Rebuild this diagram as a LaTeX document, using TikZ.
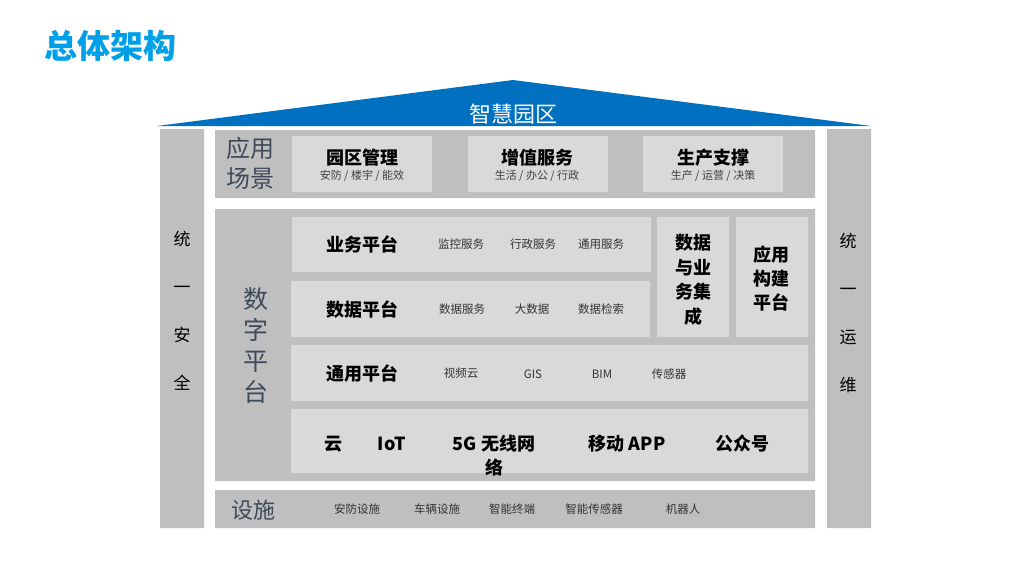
\documentclass[tikz,border=0pt]{standalone}
\usepackage{fontspec}
\setmainfont{Noto Sans CJK SC}
\usepackage{xcolor}
\usetikzlibrary{positioning}
\definecolor{roofblue}{HTML}{0070C0}
\definecolor{titleblue}{HTML}{00A0E9}
\definecolor{bandgray}{HTML}{BFBFBF}
\definecolor{cellgray}{HTML}{D9D9D9}
\definecolor{slate}{HTML}{3E4A5A}
\tikzset{
  every picture/.style={line join=round, line cap=round},
}

\begin{document}
\begin{tikzpicture}[x=1pt,y=-1pt,
  head/.style={font=\fontsize{18}{22}\selectfont\bfseries},
  item/.style={font=\fontsize{11.5}{14}\selectfont, text=black!80},
  sub/.style={font=\fontsize{11}{13}\selectfont, text=black!75},
  side/.style={font=\fontsize{17}{48}\selectfont, align=center},
  layer/.style={text=slate, align=center}]
\useasboundingbox (0,0) rectangle (1024,576);
% title and roof
\node[font=\fontsize{33}{36}\selectfont\bfseries, text=titleblue, anchor=west] (title) at (41,46) {总体架构};
\fill[roofblue] (157,126)--(513,80)--(871,126)--cycle;
\node[font=\fontsize{22}{26}\selectfont, text=white] (park) at (513,114) {智慧园区};
% side columns
\fill[bandgray] (160,129) rectangle (204,528)
(827,129) rectangle (871,528);
\node[side] (security) at (182,311) {统\\一\\安\\全};
\node[side] (ops) at (848,313) {统\\一\\运\\维};
% bands
\fill[bandgray] (215,130) rectangle (815,198)
(215,209) rectangle (815,481)
(215,490) rectangle (815,528);
% application layer
\node[layer, font=\fontsize{24}{30}\selectfont] (app) at (250,163) {应用\\场景};
\fill[cellgray] (292,136) rectangle (432,192)
(468,136) rectangle (608,192)
(643,136) rectangle (783,192);
\node[head] (mgmt) at (362,158) {园区管理};
\node[sub] (mgmtsub) at (362,176) {安防 / 楼宇 / 能效};
\node[head] (value) at (537,158) {增值服务};
\node[sub] (valuesub) at (537,176) {生活 / 办公 / 行政};
\node[head] (prod) at (713,158) {生产支撑};
\node[sub] (prodsub) at (713,176) {生产 / 运营 / 决策};
% digital platform
\node[layer, font=\fontsize{25}{31}\selectfont] (digital) at (256,345) {数\\字\\平\\台};
\fill[cellgray] (292,217) rectangle (651,272)
(291,281) rectangle (650,337)
(291,345) rectangle (808,401)
(291,409) rectangle (808,473)
(657,217) rectangle (729,337)
(736,217) rectangle (808,337);
\node[head] (biz) at (362,244) {业务平台};
\node[item] at (461,244) {监控服务};
\node[item] at (533,244) {行政服务};
\node[item] at (601,244) {通用服务};
\node[head] (data) at (362,309) {数据平台};
\node[item] at (462,309) {数据服务};
\node[item] at (532,309) {大数据};
\node[item] at (601,309) {数据检索};
\node[head] (common) at (362,373) {通用平台};
\node[item] at (461,373) {视频云};
\node[item] at (533,374) {GIS};
\node[item] at (602,374) {BIM};
\node[item] at (669,374) {传感器};
\node[head, align=center, font=\fontsize{18}{24.5}\selectfont\bfseries] (integ) at (693,280) {数据\\与业\\务集\\成};
\node[head, align=center, font=\fontsize{18}{24}\selectfont\bfseries] (build) at (771,279) {应用\\构建\\平台};
\node[head] (cloud) at (333,444) {云};
\node[head] (iot) at (392,444) {IoT};
\node[head, align=center, font=\fontsize{18}{24}\selectfont\bfseries] (net) at (494,456) {5G 无线网\\络};
\node[head] (mobile) at (627,444) {移动 APP};
\node[head] (wechat) at (742,444) {公众号};
% facilities
\node[layer, font=\fontsize{22}{26}\selectfont] (infra) at (253,510) {设施};
\node[item] at (357,509) {安防设施};
\node[item] at (437,509) {车辆设施};
\node[item] at (512,509) {智能终端};
\node[item] at (594,509) {智能传感器};
\node[item] at (683,509) {机器人};
\end{tikzpicture}
\end{document}
